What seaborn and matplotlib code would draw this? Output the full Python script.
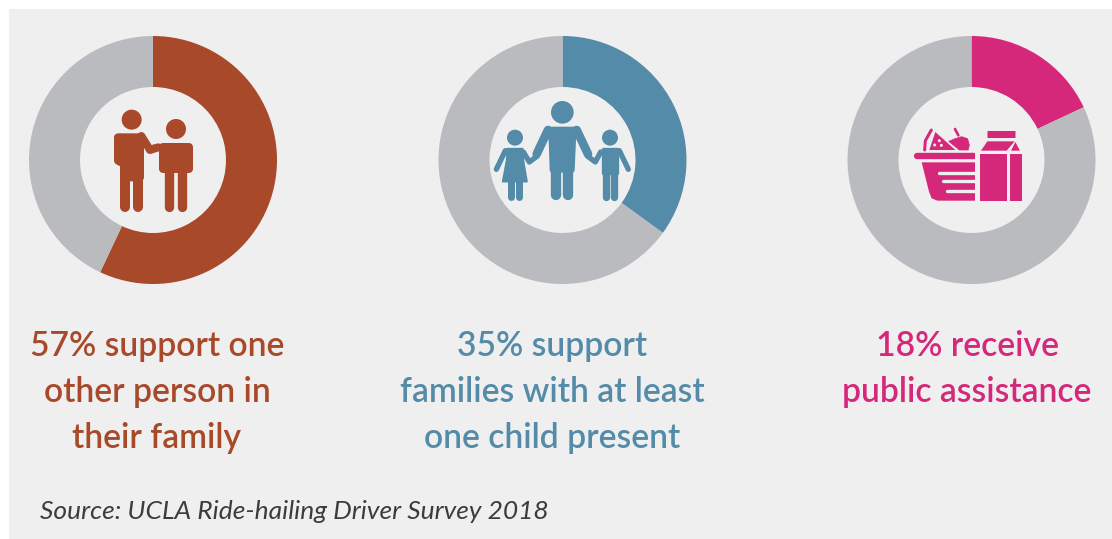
import matplotlib
matplotlib.use("Agg")
import matplotlib.pyplot as plt
import matplotlib.patches as mp
import seaborn as sns

W, H = 1112, 539
DPI = 100

shares = [57, 35, 18]
captions = [
    ["57% support one", "other person in", "their family"],
    ["35% support", "families with at least", "one child present"],
    ["18% receive", "public assistance"],
]
source_note = "Source: UCLA Ride-hailing Driver Survey 2018"

accents = sns.color_palette(["#A8492A", "#548BA9", "#D5287A"])
REST = "#B9BBBE"
PANEL = "#EFEFEF"
centers_x = [153, 562.5, 971.5]
center_y = 160
outer_r = 124
inner_r = 73
caption_x = [157, 552, 967]
caption_y = [356.5, 402.5, 448.5]

sns.set_theme(style="white")
plt.rcParams["font.family"] = ["Lato", "DejaVu Sans"]

fig = plt.figure(figsize=(W / DPI, H / DPI), dpi=DPI, facecolor="white")

# Grey panel and all text / icons share one axes measured in pixels
canvas = fig.add_axes([0, 0, 1, 1], zorder=0)
canvas.set_xlim(0, W)
canvas.set_ylim(H, 0)
canvas.axis("off")
canvas.add_patch(mp.Rectangle((9, 9), W - 9, H - 9, color=PANEL, lw=0))

overlay = fig.add_axes([0, 0, 1, 1], zorder=2)
overlay.set_xlim(0, W)
overlay.set_ylim(H, 0)
overlay.axis("off")
overlay.patch.set_alpha(0)

# One donut per statistic, starting at twelve o'clock and running clockwise
for share, colour, cx in zip(shares, accents, centers_x):
    ax = fig.add_axes(
        [(cx - outer_r) / W, (H - center_y - outer_r) / H, 2 * outer_r / W, 2 * outer_r / H],
        zorder=1,
    )
    ax.pie(
        [share, 100 - share],
        colors=[colour, REST],
        startangle=90,
        counterclock=False,
        radius=1,
        wedgeprops=dict(width=1 - inner_r / outer_r, linewidth=0),
    )
    ax.set_xlim(-1, 1)
    ax.set_ylim(-1, 1)
    ax.patch.set_alpha(0)

for lines, colour, x in zip(captions, accents, caption_x):
    for text, y in zip(lines, caption_y):
        overlay.text(x, y, text, color=colour, fontsize=24.2, fontweight="semibold",
                     ha="center", va="baseline")

overlay.text(40, 519, source_note, color="#3C3C3E", fontsize=19, style="italic",
             fontweight="normal", ha="left", va="baseline")


class Icon:
    """Pictogram pen working in local units scaled down by three."""

    def __init__(self, ox, oy, colour):
        self.ox, self.oy, self.colour = ox, oy, colour

    def p(self, x, y):
        return self.ox + x / 3, self.oy + y / 3

    def head(self, x, y, r):
        overlay.add_patch(mp.Circle(self.p(x, y), r / 3, color=self.colour, lw=0))

    def limb(self, pts, width, colour=None):
        xs, ys = zip(*[self.p(*q) for q in pts])
        overlay.plot(xs, ys, color=colour or self.colour, lw=width / 3 * 72 / DPI,
                     solid_capstyle="round", solid_joinstyle="round")

    def bar(self, pts, width, colour=None):
        xs, ys = zip(*[self.p(*q) for q in pts])
        overlay.plot(xs, ys, color=colour or self.colour, lw=width / 3 * 72 / DPI,
                     solid_capstyle="butt", solid_joinstyle="miter")

    def poly(self, pts, round_px=0, colour=None):
        c = colour or self.colour
        overlay.add_patch(mp.Polygon([self.p(*q) for q in pts], closed=True, facecolor=c,
                                     edgecolor=c, lw=round_px / 3 * 72 / DPI,
                                     joinstyle="round"))


# Two adults, one with a hand on the other's shoulder
a = Icon(90, 90, accents[0])
a.head(125, 89, 30)
a.poly([(84, 142), (150, 142), (150, 262), (103, 262), (103, 222), (84, 212)], 24)
a.limb([(154, 138), (180, 180), (205, 172)], 24)
a.limb([(106, 220), (106, 350)], 30)
a.limb([(145, 220), (145, 350)], 30)
a.head(258, 117, 30)
a.poly([(218, 172), (298, 172), (298, 238), (218, 238)], 24)
a.limb([(190, 174), (230, 170)], 20)
a.limb([(238, 240), (238, 350)], 28)
a.limb([(277, 240), (277, 350)], 28)

# Parent holding hands with two children
b = Icon(480, 90, accents[1])
b.head(247, 67, 34)
b.poly([(205, 118), (289, 118), (280, 150), (276, 240), (217, 240), (214, 150)], 16)
b.limb([(204, 120), (170, 192)], 26)
b.limb([(290, 120), (324, 192)], 26)
b.limb([(229, 230), (229, 314)], 31)
b.limb([(265, 230), (265, 314)], 31)
# girl
b.head(105, 143, 24)
b.poly([(82, 176), (128, 176), (130, 210), (141, 275), (68, 275), (80, 210)], 5)
b.limb([(76, 182), (49, 238)], 16)
b.limb([(130, 186), (148, 216), (172, 198)], 16)
b.limb([(92, 270), (92, 320)], 21)
b.limb([(118, 270), (118, 320)], 21)
# boy
b.head(390, 143, 24)
b.poly([(370, 176), (412, 176), (412, 250), (370, 250)], 10)
b.limb([(418, 182), (445, 238)], 16)
b.limb([(362, 186), (346, 216), (322, 198)], 16)
b.limb([(377, 245), (377, 320)], 22)
b.limb([(403, 245), (403, 320)], 22)
# small gaps where the hands meet
for hx in (177, 317):
    overlay.add_patch(mp.Circle(b.p(hx, 198), 12 / 3, facecolor="none", edgecolor=PANEL, lw=0.9))

# Grocery basket with pizza, apple and a milk carton
c = Icon(900, 110, accents[2])
c.limb([(52, 137), (215, 137)], 19)
c.bar([(213, 137), (225, 137)], 19)
c.poly([(65, 157), (225, 157), (225, 272), (112, 272), (95, 265), (87, 245)])
for xs, y in ((113, 188), (125, 214), (135, 242)):
    c.limb([(xs + 5, y), (220, y)], 10, PANEL)
    c.bar([(218, y), (226, y)], 10, PANEL)
c.poly([(88, 120), (106, 66), (166, 120)])
c.limb([(74, 120), (76, 92), (94, 60)], 9)
for dx, dy in ((104, 105), (118, 92), (124, 106)):
    overlay.add_patch(mp.Circle(c.p(dx, dy), 1.5, color=PANEL, lw=0))
c.poly([(146, 94), (165, 86), (185, 80), (203, 86), (208, 105), (205, 120), (178, 120)], 2)
c.limb([(165, 57), (175, 76)], 8)
c.bar([(262, 72), (344, 72)], 21)
c.poly([(262, 94), (344, 94), (320, 122), (243, 122)])
c.poly([(346, 96), (360, 122), (333, 122)])
c.poly([(241, 133), (322, 133), (322, 272), (241, 272)])
c.poly([(330, 133), (365, 133), (365, 272), (330, 272)])

fig.savefig("out.png", dpi=DPI, facecolor="white")
